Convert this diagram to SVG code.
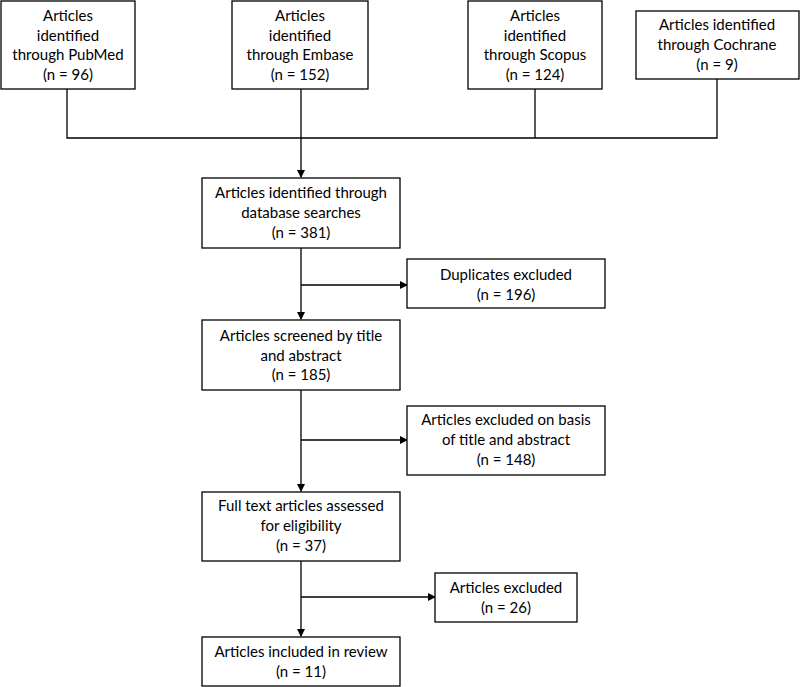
<svg xmlns="http://www.w3.org/2000/svg" width="800" height="687" viewBox="0 0 800 687">
<style>
.box{fill:#fff;stroke:#000;stroke-width:1.3}
.t{font-family:Lato,"Open Sans","Liberation Sans",sans-serif;font-size:15px;fill:#000;text-anchor:middle}
.c{fill:none;stroke:#000;stroke-width:1.3}
</style>
<defs>
<marker id="ah" markerWidth="8" markerHeight="8" refX="7" refY="4" orient="auto" markerUnits="userSpaceOnUse">
<path d="M0,0 L8,4 L0,8 Z" fill="#000"/>
</marker>
</defs>
<rect width="800" height="687" fill="#fff"/>
<g id="connectors">
<path class="c" d="M67,89 V138 H717 V79"/>
<path class="c" d="M535,89 V138"/>
<path class="c" d="M301,89 V177" marker-end="url(#ah)"/>
<path class="c" d="M301,248 V319" marker-end="url(#ah)"/>
<path class="c" d="M301,285 H407" marker-end="url(#ah)"/>
<path class="c" d="M301,390 V491" marker-end="url(#ah)"/>
<path class="c" d="M301,440 H407" marker-end="url(#ah)"/>
<path class="c" d="M301,561 V636" marker-end="url(#ah)"/>
<path class="c" d="M301,597 H435" marker-end="url(#ah)"/>
</g>
<g id="pubmed"><rect class="box" x="1" y="1" width="134" height="88"/>
<text class="t" x="68" y="21">Articles</text><text class="t" x="68" y="40.5">identified</text><text class="t" x="68" y="60">through PubMed</text><text class="t" x="68" y="79.5">(n = 96)</text></g>
<g id="embase"><rect class="box" x="232" y="1" width="136" height="88"/>
<text class="t" x="300" y="21">Articles</text><text class="t" x="300" y="40.5">identified</text><text class="t" x="300" y="60">through Embase</text><text class="t" x="300" y="79.5">(n = 152)</text></g>
<g id="scopus"><rect class="box" x="468" y="1" width="134" height="88"/>
<text class="t" x="535" y="21">Articles</text><text class="t" x="535" y="40.5">identified</text><text class="t" x="535" y="60">through Scopus</text><text class="t" x="535" y="79.5">(n = 124)</text></g>
<g id="cochrane"><rect class="box" x="636" y="11" width="163" height="68"/>
<text class="t" x="717" y="30">Articles identified</text><text class="t" x="717" y="50">through Cochrane</text><text class="t" x="717" y="70">(n = 9)</text></g>
<g id="database"><rect class="box" x="202" y="178" width="198" height="70"/>
<text class="t" x="301" y="198">Articles identified through</text><text class="t" x="301" y="218">database searches</text><text class="t" x="301" y="238">(n = 381)</text></g>
<g id="duplicates"><rect class="box" x="407" y="259" width="198" height="49"/>
<text class="t" x="506" y="280">Duplicates excluded</text><text class="t" x="506" y="300">(n = 196)</text></g>
<g id="screened"><rect class="box" x="202" y="320" width="198" height="70"/>
<text class="t" x="301" y="341">Articles screened by title</text><text class="t" x="301" y="360.5">and abstract</text><text class="t" x="301" y="380">(n = 185)</text></g>
<g id="excluded-title"><rect class="box" x="407" y="406" width="198" height="69"/>
<text class="t" x="506" y="425">Articles excluded on basis</text><text class="t" x="506" y="445">of title and abstract</text><text class="t" x="506" y="465">(n = 148)</text></g>
<g id="fulltext"><rect class="box" x="202" y="492" width="198" height="69"/>
<text class="t" x="301" y="511">Full text articles assessed</text><text class="t" x="301" y="531">for eligibility</text><text class="t" x="301" y="551">(n = 37)</text></g>
<g id="excluded"><rect class="box" x="435" y="573" width="142" height="49"/>
<text class="t" x="506" y="593">Articles excluded</text><text class="t" x="506" y="613">(n = 26)</text></g>
<g id="included"><rect class="box" x="202" y="637" width="198" height="49"/>
<text class="t" x="301" y="657">Articles included in review</text><text class="t" x="301" y="677">(n = 11)</text></g>
</svg>
